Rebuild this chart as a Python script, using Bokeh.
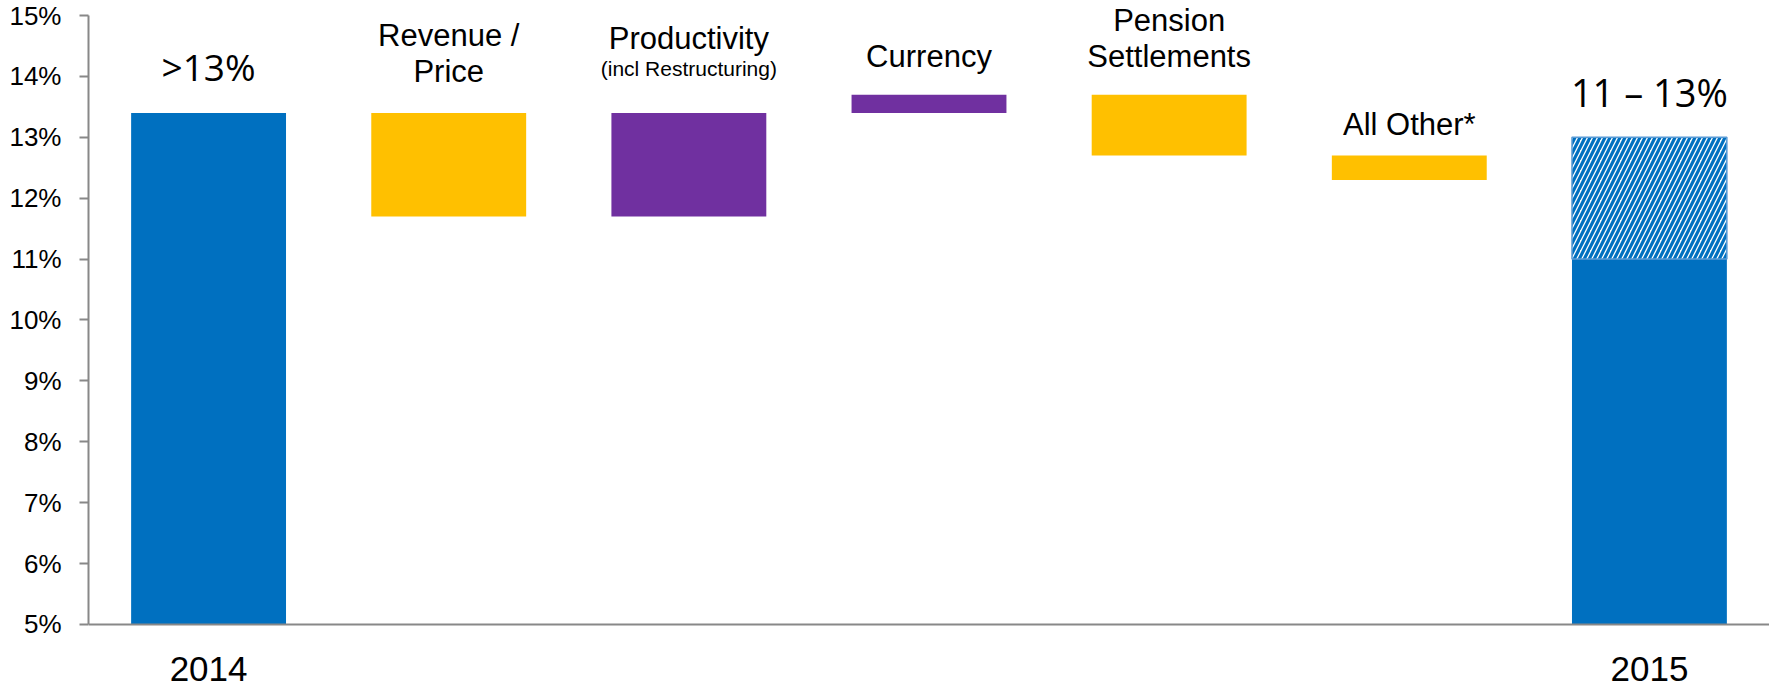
from bokeh.plotting import figure
from bokeh.models import Range1d, FixedTicker, PrintfTickFormatter, ColumnDataSource, Span
from bokeh.core.properties import value
from bokeh.embed import file_html
from bokeh.resources import INLINE

# ---------------- data ----------------
categories = ["2014", "Revenue / Price", "Productivity (incl Restructuring)",
              "Currency", "Pension Settlements", "All Other*", "2015"]
start_2014 = 13.4                       # % margin 2014
changes = [-1.7, 1.7, 0.3, -1.0, -0.4]  # walk steps (Revenue, Productivity, Currency, Pension, All Other)
range_2015_low = 11.0
range_2015_high = 13.0
y_ticks = [5, 6, 7, 8, 9, 10, 11, 12, 13, 14, 15]
top_label_2014 = ">13%"
top_label_2015 = "11 \u2013 13%"
step_label_lines = [["Revenue /", "Price"],
                    ["Productivity", "(incl Restructuring)"],
                    ["Currency"],
                    ["Pension", "Settlements"],
                    ["All Other*"]]

# ---------------- style / layout ----------------
BLUE = "#0070C0"
YELLOW = "#FFC000"
PURPLE = "#7030A0"
AXIS = "#888888"
BAR_W = 0.645
SHIFT = -11  # svg baseline correction
Y_MIN, Y_MAX = y_ticks[0], y_ticks[-1]
HEAD = 0.246   # room above 15% (labels above the top tick)
FOOT = 1.051   # room below 5% for the year labels

slots = [i + 0.5 for i in range(len(categories))]

p = figure(width=1769, height=688, output_backend="svg", toolbar_location=None,
           x_range=Range1d(0, len(categories)), y_range=Range1d(Y_MIN - FOOT, Y_MAX + HEAD),
           min_border_left=88, min_border_right=0, min_border_top=0, min_border_bottom=0)
p.outline_line_color = None
p.xgrid.visible = False
p.ygrid.visible = False
p.background_fill_color = "white"
p.border_fill_color = "white"
p.xaxis.visible = False

# y axis
p.yaxis.ticker = FixedTicker(ticks=y_ticks)
p.yaxis.bounds = (Y_MIN, Y_MAX)
p.yaxis.formatter = PrintfTickFormatter(format="%d%%")
p.yaxis.axis_line_color = AXIS
p.yaxis.axis_line_width = 2
p.yaxis.major_tick_line_color = AXIS
p.yaxis.major_tick_line_width = 2
p.yaxis.major_tick_out = 9
p.yaxis.major_tick_in = 0
p.yaxis.minor_tick_line_color = None
p.yaxis.major_label_text_font = "Liberation Sans"
p.yaxis.major_label_text_font_size = "26px"
p.yaxis.major_label_text_color = "black"
p.yaxis.major_label_standoff = 18

# baseline (category axis line) at 5%
p.add_layout(Span(location=Y_MIN, dimension="width", line_color=AXIS, line_width=2))

# ---------------- waterfall computation ----------------
bottoms, tops, colors = [], [], []
level = start_2014
for ch in changes:
    new = level + ch
    bottoms.append(min(level, new))
    tops.append(max(level, new))
    colors.append(YELLOW if ch < 0 else PURPLE)
    level = new

step_x = slots[1:6]

# 2014 bar
p.vbar(x=[slots[0]], width=BAR_W, bottom=Y_MIN, top=[start_2014],
       fill_color=BLUE, line_color=None)

# step bars
step_src = ColumnDataSource(dict(x=step_x, b=bottoms, t=tops, c=colors))
p.vbar(x="x", width=BAR_W, bottom="b", top="t", fill_color="c", line_color=None, source=step_src)

# 2015 bars: solid low part + hatched range
p.vbar(x=[slots[-1]], width=BAR_W, bottom=Y_MIN, top=[range_2015_low],
       fill_color=BLUE, line_color=None)
p.vbar(x=[slots[-1]], width=BAR_W, bottom=[range_2015_low], top=[range_2015_high],
       fill_color="white", line_color="#5B9BD5", line_width=1.5,
       hatch_pattern="/", hatch_color=BLUE, hatch_scale=10, hatch_weight=3.2)

# ---------------- labels ----------------
# year labels under the baseline
p.text(x=[slots[0], slots[-1]], y=[Y_MIN, Y_MIN], text=[categories[0], categories[-1]],
       y_offset=56 + SHIFT, text_align="center", text_baseline="alphabetic",
       text_font=value("Liberation Sans"), text_font_size="35px", text_color="black")

p.text(x=[slots[0]], y=[start_2014], text=[top_label_2014], y_offset=-35 + SHIFT,
       text_align="center", text_baseline="alphabetic",
       text_font=value("Open Sans"), text_font_size="37px", text_color="black")
p.text(x=[slots[-1]], y=[range_2015_high], text=[top_label_2015], y_offset=-34 + SHIFT,
       text_align="center", text_baseline="alphabetic",
       text_font=value("Open Sans"), text_font_size="38px", text_color="black")

label_offsets = [[-66, -30], [-63, -33], [-27], [-63, -27], [-20]]
small = {"(incl Restructuring)"}
for i, lines in enumerate(step_label_lines):
    for ln, off in zip(lines, label_offsets[i]):
        p.text(x=[step_x[i]], y=[tops[i]], text=[ln], y_offset=off + SHIFT,
               text_align="center", text_baseline="alphabetic",
               text_font=value("Liberation Sans"),
               text_font_size="21px" if ln in small else "31px", text_color="black")

open("out.html", "w").write(file_html(p, INLINE))
